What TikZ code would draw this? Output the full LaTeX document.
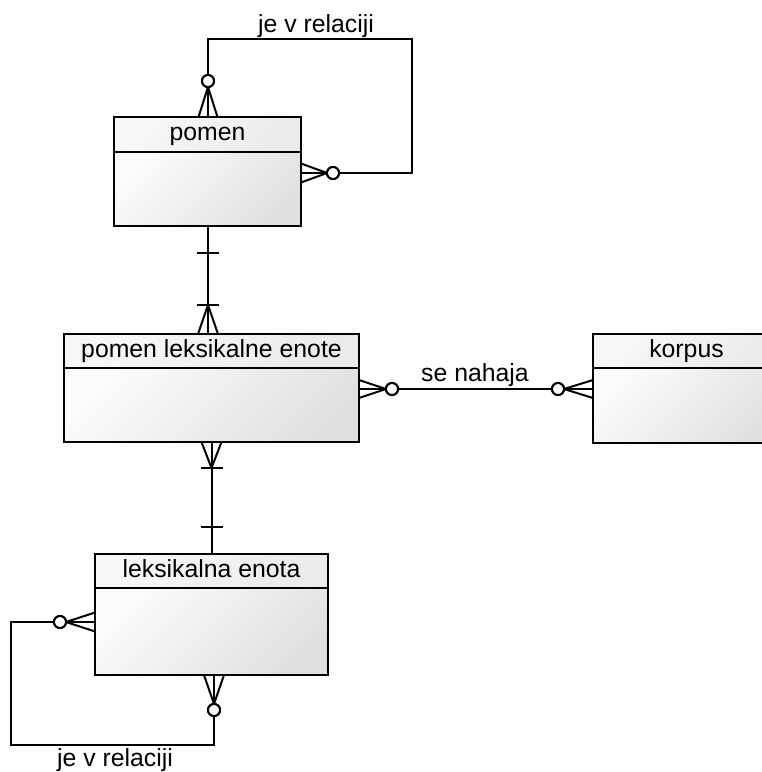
\documentclass[tikz,border=0pt]{standalone}
\usepackage{fontspec}
\setmainfont{Liberation Sans}
\usetikzlibrary{calc}
\tikzset{
  ent/.style={draw=black, line width=2pt, inner sep=0pt, outer sep=0pt, anchor=north west},
  hdr/.style={ent, shade, top color=gray!6, bottom color=gray!16, shading angle=45,
    text height=17.8pt, text depth=5.2pt, font=\fontsize{24.8}{30}\selectfont},
  bdy/.style={ent, shade, top color=gray!3, bottom color=gray!24, shading angle=45},
  conn/.style={line width=2pt, line join=miter},
  opt/.style={circle, draw=black, line width=2pt, fill=white, minimum size=12pt, inner sep=0pt, outer sep=0pt},
  lbl/.style={font=\fontsize{24.8}{30}\selectfont, inner sep=0pt, anchor=base},
}
\begin{document}
\begin{tikzpicture}[x=1pt,y=-1pt]
\useasboundingbox (0,0) rectangle (762,772);
\clip (0,0) rectangle (762,772);

% entities
\node[hdr, minimum width=187pt, minimum height=35pt] (pomenH) at (114,117) {pomen};
\node[bdy, minimum width=187pt, minimum height=74pt] (pomenB) at (pomenH.south west) {};

\node[hdr, minimum width=295pt, minimum height=34pt] (pleH) at (64,334) {pomen leksikalne enote};
\node[bdy, minimum width=295pt, minimum height=74pt] (pleB) at (pleH.south west) {};

\node[hdr, minimum width=187pt, minimum height=34pt] (korH) at (593,334) {korpus};
\node[bdy, minimum width=187pt, minimum height=75pt] (korB) at (korH.south west) {};

\node[hdr, minimum width=233pt, minimum height=34pt] (leH) at (95,554) {leksikalna enota};
\node[bdy, minimum width=233pt, minimum height=87pt] (leB) at (leH.south west) {};

% ---- pomen self relation ----
\node[opt] (c1) at (208,81) {};
\node[opt] (c2) at (333,173) {};
\coordinate (t1) at (412,39);
\coordinate (p1) at (c1 |- pomenH.north);
\coordinate (p2) at (pomenB.north east |- c2);
\draw[conn] (c1) |- (t1) |- (c2);
\draw[conn] (c1.south) -- (p1);
\draw[conn] (c1.south) -- ($(p1)+(-9.5,0)$);
\draw[conn] (c1.south) -- ($(p1)+(9.5,0)$);
\draw[conn] (c2.west) -- (p2);
\draw[conn] (c2.west) -- ($(p2)+(0,-9.5)$);
\draw[conn] (c2.west) -- ($(p2)+(0,9.5)$);
\node[opt] at (c1) {};
\node[opt] at (c2) {};
\node[lbl] (l1) at (316,32) {je v relaciji};

% ---- pomen -- pomen leksikalne enote ----
\coordinate (y305) at (0,305);
\coordinate (a1) at (c1 |- pomenB.south);
\coordinate (a2) at (c1 |- pleH.north);
\coordinate (a3) at (c1 |- y305);
\draw[conn] (a1) -- (a2);
\draw[conn] ($(a1)+(-11,27)$) -- ($(a1)+(11,27)$);
\draw[conn] ($(a3)+(-11,0)$) -- ($(a3)+(11,0)$);
\draw[conn] (a3) -- ($(a2)+(-10,0)$);
\draw[conn] (a3) -- ($(a2)+(10,0)$);

% ---- pomen leksikalne enote -- korpus ----
\node[opt] (c3) at (392,389) {};
\node[opt] (c4) at (558,389) {};
\coordinate (b1) at (pleB.north east |- c3);
\coordinate (b2) at (korB.north west |- c4);
\draw[conn] (b1) -- (b2);
\draw[conn] (c3.west) -- ($(b1)+(0,-9)$);
\draw[conn] (c3.west) -- ($(b1)+(0,9)$);
\draw[conn] (c4.east) -- ($(b2)+(0,-9)$);
\draw[conn] (c4.east) -- ($(b2)+(0,9)$);
\node[opt] at (c3) {};
\node[opt] at (c4) {};
\node[lbl] (l2) at (475,381) {se nahaja};

% ---- pomen leksikalne enote -- leksikalna enota ----
\coordinate (d1) at (pleB.south);
\coordinate (d2) at (leH.north);
\coordinate (d3) at ($(d1)+(0,26)$);
\draw[conn] (d1) -- (d2);
\draw[conn] (d3) -- ($(d1)+(-10,0)$);
\draw[conn] (d3) -- ($(d1)+(10,0)$);
\draw[conn] ($(d3)+(-11,0)$) -- ($(d3)+(11,0)$);
\draw[conn] ($(d2)+(-11,-27)$) -- ($(d2)+(11,-27)$);

% ---- leksikalna enota self relation ----
\node[opt] (c5) at (60,622) {};
\node[opt] (c6) at (214,710) {};
\coordinate (t2) at (11,745);
\coordinate (e1) at (leB.north west |- c5);
\coordinate (e2) at (c6 |- leB.south);
\draw[conn] (c5) -| (t2) -| (c6);
\draw[conn] (c5.east) -- (e1);
\draw[conn] (c5.east) -- ($(e1)+(0,-9.5)$);
\draw[conn] (c5.east) -- ($(e1)+(0,9.5)$);
\draw[conn] (c6.north) -- (e2);
\draw[conn] (c6.north) -- ($(e2)+(-10,0)$);
\draw[conn] (c6.north) -- ($(e2)+(10,0)$);
\node[opt] at (c5) {};
\node[opt] at (c6) {};
\node[lbl] (l3) at (115,766) {je v relaciji};
\end{tikzpicture}
\end{document}
